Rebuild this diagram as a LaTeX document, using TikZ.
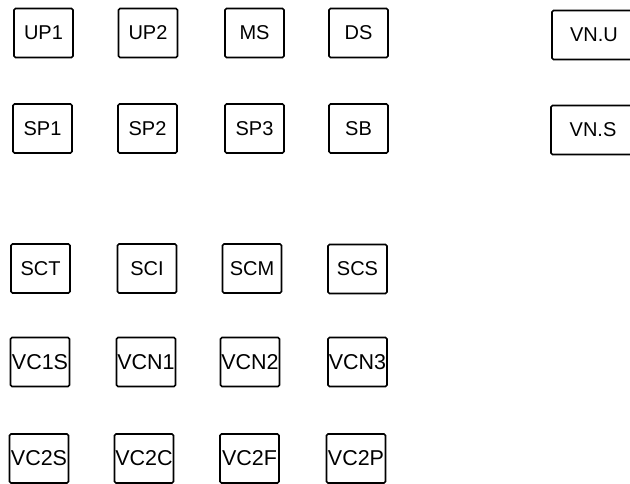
\documentclass[tikz,border=0pt]{standalone}
\usepackage{fontspec}
\setmainfont{Liberation Sans}
\begin{document}
\begin{tikzpicture}[x=1pt, y=-1pt,
  box/.style={draw, line width=1.7pt, rounded corners=1.5pt, inner sep=0pt, minimum width=59pt, minimum height=49pt, font=\fontsize{20}{20}\selectfont},
  wbox/.style={box, minimum width=84pt},
  vbox/.style={box, font=\fontsize{21.5}{21.5}\selectfont}]
\useasboundingbox (0,0) rectangle (630,484);
\clip (0,0) rectangle (630,484);
% first row
\node[box] (up1) at (43.5,33) {UP1};
\node[box] (up2) at (148,33) {UP2};
\node[box] (ms) at (254.5,33) {MS};
\node[box] (ds) at (358.5,33) {DS};
\node[wbox] (vnu) at (594,35) {VN.U};
% second row
\node[box] (sp1) at (42.5,128.5) {SP1};
\node[box] (sp2) at (147.5,128.5) {SP2};
\node[box] (sp3) at (254.5,128.5) {SP3};
\node[box] (sb) at (358.5,128.5) {SB};
\node[wbox] (vns) at (593,130) {VN.S};
% SC row
\node[box] (sct) at (40.5,268.5) {SCT};
\node[box] (sci) at (147,268.5) {SCI};
\node[box] (scm) at (252,268.5) {SCM};
\node[box] (scs) at (357.5,269) {SCS};
% VC rows
\node[vbox] (vc1s) at (40,362) {VC1S};
\node[vbox] (vcn1) at (146,362) {VCN1};
\node[vbox] (vcn2) at (250,362) {VCN2};
\node[vbox] (vcn3) at (357.5,362) {VCN3};
\node[vbox] (vc2s) at (39,458.5) {VC2S};
\node[vbox] (vc2c) at (144,458.5) {VC2C};
\node[vbox] (vc2f) at (249.5,458.5) {VC2F};
\node[vbox] (vc2p) at (356,458.5) {VC2P};
\end{tikzpicture}
\end{document}
